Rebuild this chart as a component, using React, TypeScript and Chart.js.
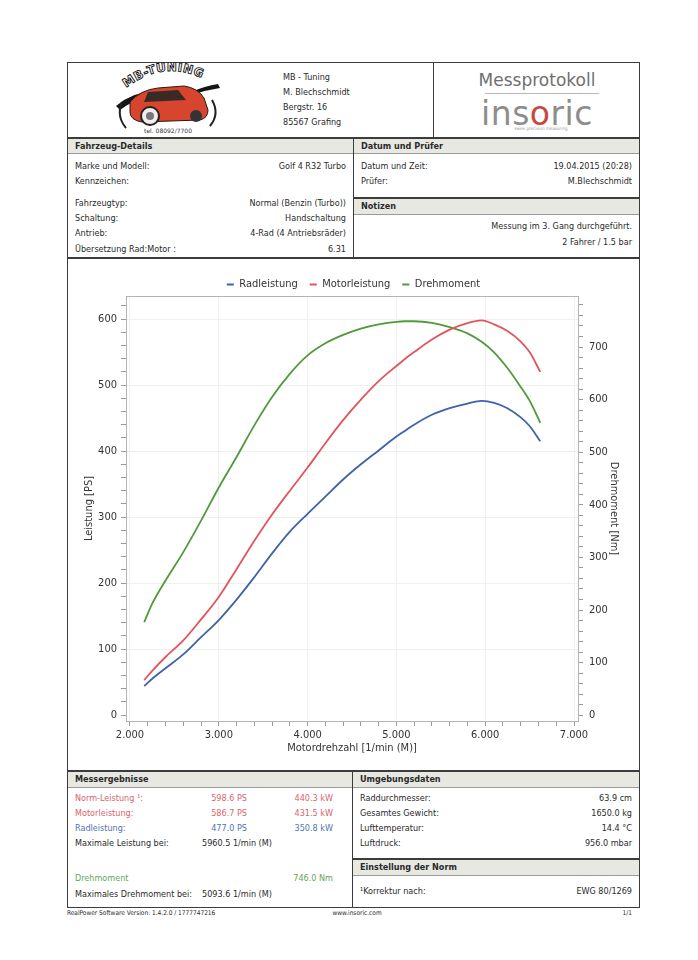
import React, { useEffect, useRef } from 'react';
import { Chart, registerables } from 'chart.js';

Chart.register(...registerables);

// ---- data ----
const rpm = [2160, 2250, 2400, 2600, 2800, 3000, 3200, 3400, 3600, 3800, 4000, 4200, 4400, 4600, 4800, 5000, 5100, 5200, 5400, 5600, 5800, 5960, 6100, 6250, 6400, 6500, 6620];
const radleistung = [44, 55, 71, 92, 118, 144, 175, 209, 245, 278, 305, 331, 357, 380, 401, 422, 431, 440, 455, 465, 472, 476, 473, 465, 451, 438, 415];
const motorleistung = [53, 67, 88, 113, 145, 179, 221, 264, 304, 340, 375, 412, 447, 478, 506, 529, 540, 550, 569, 584, 594, 598, 592, 582, 566, 550, 520];
const drehmoment = [177, 212, 256, 310, 370, 433, 491, 551, 605, 649, 684, 707, 723, 735, 743, 748, 749, 749, 746, 738, 726, 710, 690, 660, 624, 598, 556];

const seriesNames = ['Radleistung', 'Motorleistung', 'Drehmoment'];
const seriesColors = ['#3f62a8', '#e2545c', '#4f9a3a'];

const xTicks = [2000, 3000, 4000, 5000, 6000, 7000];
const leftTicks = [0, 100, 200, 300, 400, 500, 600];
const rightTicks = [0, 100, 200, 300, 400, 500, 600, 700];

const FONT = '"DejaVu Sans Condensed", "DejaVu Sans", sans-serif';
const W = 698;

function fmtThousands(v: number) {
  const s = String(Math.round(v));
  return s.length > 3 ? s.slice(0, s.length - 3) + '.' + s.slice(-3) : s;
}

function minorTicks(from: number, to: number, step: number) {
  const out: { value: number }[] = [];
  for (let v = from; v <= to + 1e-9; v += step) out.push({ value: v });
  return out;
}

function T(props: any) {
  const { x, y, children, align = 'left', size = 9, bold = false, color = '#2a2a2a', family = FONT, extra = {} } = props;
  const style: any = {
    position: 'absolute', top: y - 8, height: 16, lineHeight: '16px', fontSize: size,
    fontWeight: bold ? 'bold' : 'normal', color, fontFamily: family, whiteSpace: 'nowrap', ...extra,
  };
  if (align === 'left') style.left = x;
  else if (align === 'right') style.right = W - x;
  else { style.left = x - 200; style.width = 400; style.textAlign = 'center'; }
  return <div style={style}>{children}</div>;
}

function Box(props: any) {
  const { l, t, w, h, style = {} } = props;
  return <div style={{ position: 'absolute', left: l, top: t, width: w, height: h, boxSizing: 'border-box', ...style }} />;
}

const BAR = '#e8e8e3';
const LINE = '#3c3c3c';

function Logo() {
  return (
    <svg style={{ position: 'absolute', left: 112, top: 62, width: 112, height: 74 }} viewBox="0 0 112 74">
      <defs>
        <path id="arcp" d="M14,26 Q56,-6 100,22" />
      </defs>
      <text fontFamily="DejaVu Sans" fontSize="12" fontWeight="bold" fill="#fff" stroke="#111" strokeWidth="0.9" letterSpacing="0.5">
        <textPath href="#arcp">MB-TUNING</textPath>
      </text>
      <path d="M4,44 Q30,22 62,34 Q36,28 8,48 Z" fill="#151515" />
      <path d="M108,26 Q80,30 50,46 Q80,26 106,22 Z" fill="#151515" />
      <path d="M18,40 Q28,28 46,26 L72,24 Q86,26 92,36 L96,48 Q96,56 88,58 L30,60 Q18,58 18,50 Z" fill="#d8452f" stroke="#2a1a14" strokeWidth="1" />
      <path d="M36,30 L66,28 L74,38 L32,40 Z" fill="#3a2a26" />
      <circle cx="38" cy="54" r="9" fill="#eee" stroke="#222" strokeWidth="2" />
      <circle cx="38" cy="54" r="4" fill="#777" />
      <circle cx="84" cy="54" r="6" fill="#333" />
      <path d="M10,40 Q4,54 14,66" fill="none" stroke="#222" strokeWidth="2" />
      <path d="M100,38 Q108,52 98,64" fill="none" stroke="#222" strokeWidth="2" />
      <text x="56" y="71" fontFamily="DejaVu Sans" fontSize="6" fill="#333" textAnchor="middle">tel. 08092/7700</text>
    </svg>
  );
}

function DynoChart() {
  const ref = useRef<HTMLCanvasElement | null>(null);
  useEffect(() => {
    if (!ref.current) return;
    const mk = (vals: number[]) => rpm.map((r, i) => ({ x: r, y: vals[i] }));
    const tickFont = { family: FONT, size: 11 };
    const frame = {
      id: 'frame',
      beforeDatasetsDraw(chart: any) {
        const { ctx, chartArea: a } = chart;
        ctx.save();
        ctx.strokeStyle = '#b4b4b4';
        ctx.lineWidth = 1;
        ctx.strokeRect(Math.round(a.left) + 0.5, Math.round(a.top) + 0.5, Math.round(a.right - a.left), Math.round(a.bottom - a.top));
        ctx.restore();
      },
    };
    const common = { borderWidth: 1.8, pointRadius: 0, cubicInterpolationMode: 'monotone' };
    const chart: any = new Chart(ref.current, {
      type: 'line',
      data: {
        datasets: [
          { label: seriesNames[0], data: mk(radleistung), borderColor: seriesColors[0], backgroundColor: seriesColors[0], yAxisID: 'y', ...common },
          { label: seriesNames[1], data: mk(motorleistung), borderColor: seriesColors[1], backgroundColor: seriesColors[1], yAxisID: 'y', ...common },
          { label: seriesNames[2], data: mk(drehmoment), borderColor: seriesColors[2], backgroundColor: seriesColors[2], yAxisID: 'y1', ...common },
        ],
      },
      options: {
        animation: false,
        responsive: false,
        maintainAspectRatio: false,
        layout: { padding: 0 },
        plugins: {
          tooltip: { enabled: false },
          legend: {
            position: 'top',
            labels: {
              font: { family: FONT, size: 11 },
              color: '#333',
              boxWidth: 7,
              boxHeight: 2,
              padding: 12,
              generateLabels: (c: any) => c.data.datasets.map((d: any, i: number) => ({
                text: d.label, fillStyle: d.borderColor, strokeStyle: d.borderColor, lineWidth: 0,
                hidden: false, datasetIndex: i, fontColor: '#333',
              })),
            },
          },
        },
        scales: {
          x: {
            type: 'linear',
            min: 1955,
            max: 7045,
            afterBuildTicks: (s: any) => { s.ticks = minorTicks(2000, 7000, 200); },
            afterFit: (s: any) => { s.height = 48; },
            ticks: {
              autoSkip: false, maxRotation: 0, padding: 3, font: tickFont, color: '#333',
              callback: (v: any) => (xTicks.includes(Number(v)) ? fmtThousands(Number(v)) : ''),
            },
            grid: {
              color: (c: any) => (c.tick && xTicks.includes(c.tick.value) ? '#efefef' : 'rgba(0,0,0,0)'),
              tickColor: '#9a9a9a', tickLength: 5,
            },
            border: { color: '#a8a8a8' },
            title: { display: true, text: 'Motordrehzahl [1/min (M)]', font: tickFont, color: '#333', padding: { top: 0, bottom: 14 } },
          },
          y: {
            type: 'linear',
            position: 'left',
            min: -9,
            max: 635,
            afterBuildTicks: (s: any) => { s.ticks = minorTicks(0, 620, 20); },
            afterFit: (s: any) => { s.width = 58; },
            ticks: {
              autoSkip: false, padding: 4, font: tickFont, color: '#333',
              callback: (v: any) => (leftTicks.includes(Number(v)) ? String(v) : ''),
            },
            grid: {
              color: (c: any) => (c.tick && leftTicks.includes(c.tick.value) && c.tick.value > 0 ? '#efefef' : 'rgba(0,0,0,0)'),
              tickColor: '#9a9a9a', tickLength: 5,
            },
            border: { color: '#a8a8a8' },
            title: { display: true, text: 'Leistung [PS]', font: tickFont, color: '#333', padding: { top: 15, bottom: 0 } },
          },
          y1: {
            type: 'linear',
            position: 'right',
            min: -11,
            max: 797,
            afterBuildTicks: (s: any) => { s.ticks = minorTicks(0, 780, 20); },
            afterFit: (s: any) => { s.width = 61; },
            ticks: {
              autoSkip: false, padding: 6, font: tickFont, color: '#333',
              callback: (v: any) => (rightTicks.includes(Number(v)) ? String(v) : ''),
            },
            grid: { drawOnChartArea: false, tickColor: '#9a9a9a', tickLength: 5 },
            border: { color: '#a8a8a8' },
            title: { display: true, text: 'Drehmoment [Nm]', font: tickFont, color: '#333', padding: { top: 19, bottom: 0 } },
          },
        },
      },
      plugins: [frame],
    } as any);
    const lg = chart.legend;
    if (lg && !lg.__patched) {
      const orig = lg.fit.bind(lg);
      lg.fit = function () { orig(); this.height = this.height - 4; };
      lg.__patched = true;
      chart.update();
    }
    return () => chart.destroy();
  }, []);
  return <canvas ref={ref} width={571} height={502} style={{ position: 'absolute', left: 68, top: 267, width: 571, height: 502 }} />;
}

export default function App() {
  const red = '#d8646c';
  const blue = '#4d74b3';
  const green = '#66a556';
  return (
    <div style={{ position: 'absolute', left: 0, top: 0, width: 698, height: 960, background: '#fff', overflow: 'hidden', fontFamily: FONT }}>
      {/* section bars */}
      <Box l={68} t={138} w={285} h={16} style={{ background: BAR, borderBottom: '1px solid #9a9a9a' }} />
      <Box l={354} t={138} w={285} h={16} style={{ background: BAR, borderBottom: '1px solid #9a9a9a' }} />
      <Box l={354} t={198} w={285} h={17} style={{ background: BAR, borderBottom: '1px solid #9a9a9a' }} />
      <Box l={68} t={771} w={284} h={17} style={{ background: BAR, borderBottom: '1px solid #9a9a9a' }} />
      <Box l={353} t={771} w={286} h={17} style={{ background: BAR, borderBottom: '1px solid #9a9a9a' }} />
      <Box l={353} t={859} w={286} h={17} style={{ background: BAR, borderBottom: '1px solid #9a9a9a' }} />

      {/* frame lines */}
      <Box l={67} t={62} w={573} h={846} style={{ border: `1.5px solid ${LINE}` }} />
      <Box l={67} t={137} w={573} h={1.5} style={{ background: LINE }} />
      <Box l={67} t={257} w={573} h={1.5} style={{ background: LINE }} />
      <Box l={67} t={770} w={573} h={1.5} style={{ background: LINE }} />
      <Box l={432.5} t={62} w={1.5} h={75} style={{ background: LINE }} />
      <Box l={352.5} t={137} w={1.5} h={121} style={{ background: LINE }} />
      <Box l={353} t={197} w={287} h={1.5} style={{ background: LINE }} />
      <Box l={351.5} t={770} w={1.5} h={138} style={{ background: LINE }} />
      <Box l={352} t={858} w={288} h={1.5} style={{ background: LINE }} />

      {/* header */}
      <Logo />
      <T x={283} y={77}>MB - Tuning</T>
      <T x={283} y={92}>M. Blechschmidt</T>
      <T x={283} y={107}>Bergstr. 16</T>
      <T x={283} y={122}>85567 Grafing</T>
      <T x={537} y={80} align="center" size={17} color="#6f6f6f" family='"DejaVu Sans", sans-serif'>Messprotokoll</T>
      <Box l={485} t={93} w={114} h={1} style={{ background: '#b8b8b8' }} />
      <div style={{ position: 'absolute', left: 437, width: 200, top: 96, height: 36, lineHeight: '36px', textAlign: 'center', fontFamily: '"DejaVu Sans", sans-serif', fontSize: 33, color: '#8d8d8d', letterSpacing: '0.5px' }}>
        ins<span style={{ color: '#c9453f' }}>o</span>ric
      </div>
      <T x={541} y={129} align="center" size={4.5} color="#9a9a9a">swiss precision measuring</T>

      {/* Fahrzeug-Details */}
      <T x={75} y={146} bold>Fahrzeug-Details</T>
      <T x={75} y={166}>Marke und Modell:</T>
      <T x={346} y={166} align="right">Golf 4 R32 Turbo</T>
      <T x={75} y={181}>Kennzeichen:</T>
      <T x={75} y={203}>Fahrzeugtyp:</T>
      <T x={346} y={203} align="right">Normal (Benzin (Turbo))</T>
      <T x={75} y={218}>Schaltung:</T>
      <T x={346} y={218} align="right">Handschaltung</T>
      <T x={75} y={233}>Antrieb:</T>
      <T x={346} y={233} align="right">4-Rad (4 Antriebsräder)</T>
      <T x={75} y={249}>Übersetzung Rad:Motor :</T>
      <T x={346} y={249} align="right">6.31</T>

      {/* Datum und Prüfer */}
      <T x={361} y={146} bold>Datum und Prüfer</T>
      <T x={361} y={166}>Datum und Zeit:</T>
      <T x={632} y={166} align="right">19.04.2015 (20:28)</T>
      <T x={361} y={181}>Prüfer:</T>
      <T x={632} y={181} align="right">M.Blechschmidt</T>
      <T x={361} y={206} bold>Notizen</T>
      <T x={632} y={226} align="right">Messung im 3. Gang durchgeführt.</T>
      <T x={632} y={242} align="right">2 Fahrer / 1.5 bar</T>

      {/* chart */}
      <DynoChart />

      {/* Messergebnisse */}
      <T x={75} y={779} bold>Messergebnisse</T>
      <T x={75} y={798} color={red}>Norm-Leistung ¹:</T>
      <T x={247} y={798} align="right" color={red}>598.6 PS</T>
      <T x={333} y={798} align="right" color={red}>440.3 kW</T>
      <T x={75} y={813} color={red}>Motorleistung:</T>
      <T x={247} y={813} align="right" color={red}>586.7 PS</T>
      <T x={333} y={813} align="right" color={red}>431.5 kW</T>
      <T x={75} y={828} color={blue}>Radleistung:</T>
      <T x={247} y={828} align="right" color={blue}>477.0 PS</T>
      <T x={333} y={828} align="right" color={blue}>350.8 kW</T>
      <T x={75} y={843}>Maximale Leistung bei:</T>
      <T x={202} y={843}>5960.5 1/min (M)</T>
      <T x={75} y={878} color={green}>Drehmoment</T>
      <T x={333} y={878} align="right" color={green}>746.0 Nm</T>
      <T x={75} y={894}>Maximales Drehmoment bei:</T>
      <T x={202} y={894}>5093.6 1/min (M)</T>

      {/* Umgebungsdaten */}
      <T x={360} y={779} bold>Umgebungsdaten</T>
      <T x={360} y={798}>Raddurchmesser:</T>
      <T x={632} y={798} align="right">63.9 cm</T>
      <T x={360} y={813}>Gesamtes Gewicht:</T>
      <T x={632} y={813} align="right">1650.0 kg</T>
      <T x={360} y={828}>Lufttemperatur:</T>
      <T x={632} y={828} align="right">14.4 °C</T>
      <T x={360} y={843}>Luftdruck:</T>
      <T x={632} y={843} align="right">956.0 mbar</T>
      <T x={360} y={867} bold>Einstellung der Norm</T>
      <T x={360} y={891}>¹Korrektur nach:</T>
      <T x={632} y={891} align="right">EWG 80/1269</T>

      {/* footer */}
      <T x={67} y={913} size={6.5}>RealPower Software Version: 1.4.2.0 / 1777747216</T>
      <T x={357} y={913} size={6.5} align="center">www.insoric.com</T>
      <T x={632} y={913} size={6.5} align="right">1/1</T>
    </div>
  );
}
